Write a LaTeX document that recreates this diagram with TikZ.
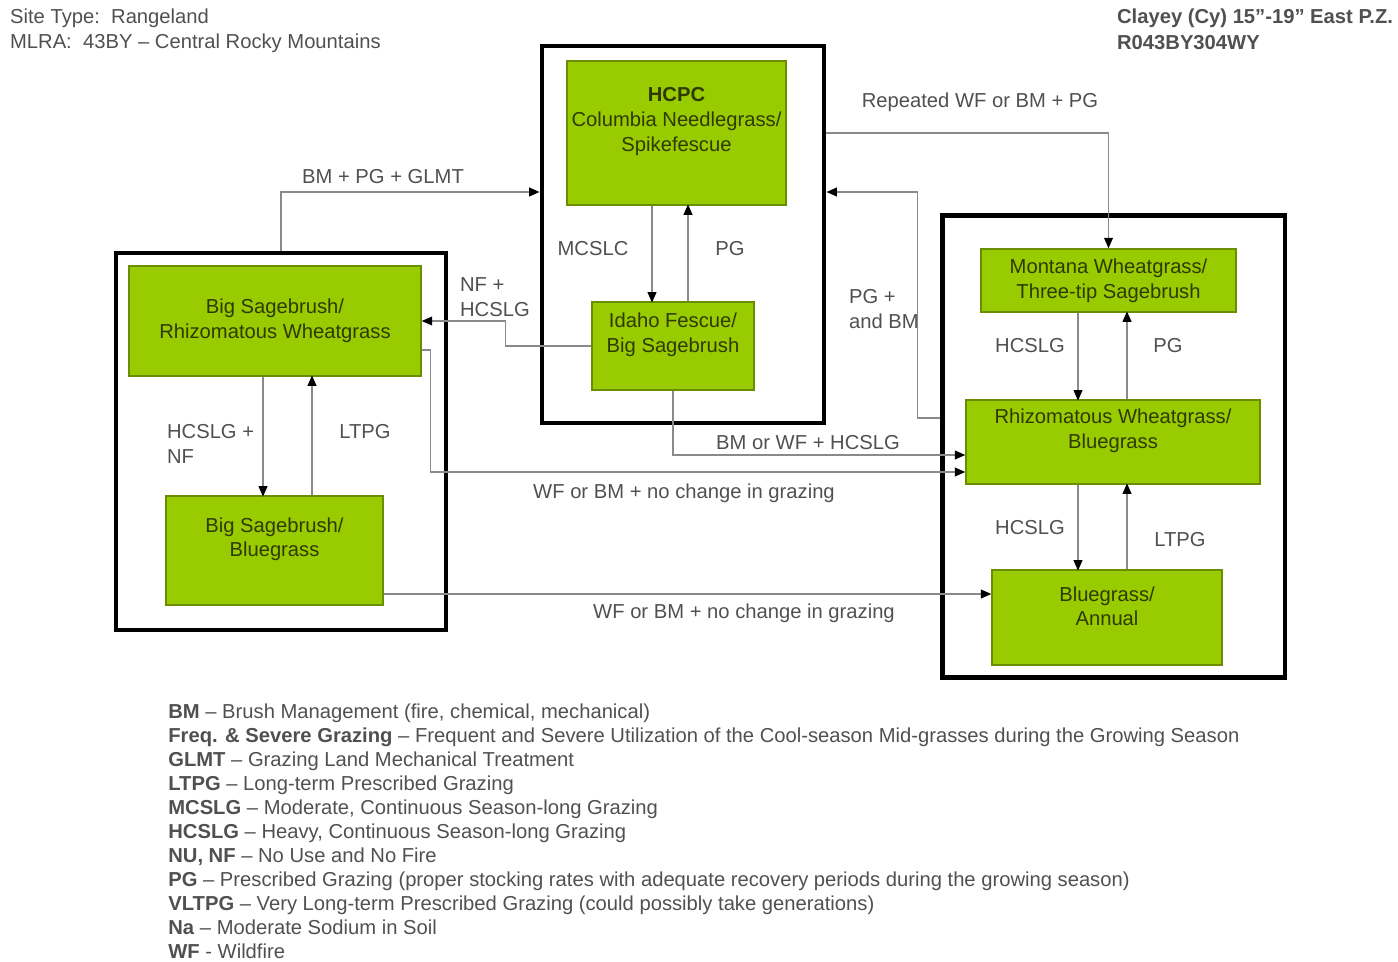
\documentclass[tikz,border=0pt]{standalone}
\usepackage{fontspec}
\setmainfont{Liberation Sans}
\usepackage{xcolor}
\usepackage{tikz}
\usetikzlibrary{arrows.meta,positioning}
\definecolor{stategreen}{HTML}{99CC00}
\definecolor{stateedge}{HTML}{6B8E00}
\definecolor{statetext}{HTML}{2E3A00}
\definecolor{linegray}{HTML}{8A8A8A}
\definecolor{labelgray}{HTML}{505050}

\begin{document}
\begin{tikzpicture}[
    x=0.02cm, y=-0.02cm,
    frame/.style={rectangle, draw=black, line width=2.8pt, inner sep=0pt},
    state/.style={rectangle, draw=stateedge, fill=stategreen, line width=0.8pt, inner sep=0pt},
    statelabel/.style={align=center, text=statetext, font=\fontsize{11.5}{14}\selectfont},
    raised/.style={yshift=6.5pt},
    lbl/.style={text=labelgray, font=\fontsize{11.5}{14}\selectfont, inner sep=1pt},
    arrow/.style={-{Triangle[length=6pt,width=5pt,black]}, draw=linegray, line width=0.9pt}
    ]
    \useasboundingbox (0,0) rectangle (1398,962);

    % Titel
    \node[lbl, anchor=west] (site) at (8,18) {Site Type:\ \ Rangeland};
    \node[lbl, anchor=west] (mlra) at (8,43) {MLRA:\ \ 43BY – Central Rocky Mountains};
    \node[lbl, anchor=west, font=\fontsize{11.5}{14}\selectfont\bfseries] (clayey) at (1115,18) {Clayey (Cy) 15"-19" East P.Z.};
    \node[lbl, anchor=west, font=\fontsize{11.5}{14}\selectfont\bfseries] (code) at (1115,43) {R043BY304WY};

    % Rahmen
    \node[frame, minimum width=5.64cm, minimum height=7.54cm] (cframe) at (683,234.5) {};
    \node[frame, minimum width=6.6cm, minimum height=7.54cm] (lframe) at (281,441.5) {};
    \node[frame, minimum width=6.86cm, minimum height=9.26cm] (rframe) at (1113.5,446.5) {};

    % Zustaende
    \node[state, minimum width=4.38cm, minimum height=2.88cm,
        label={[statelabel, raised]center:{\textbf{HCPC}\\Columbia Needlegrass/\\Spikefescue}}] (hcpc) at (676.5,133) {};
    \node[state, minimum width=3.24cm, minimum height=1.76cm,
        label={[statelabel, raised]center:{Idaho Fescue/\\Big Sagebrush}}] (idaho) at (673,346) {};
    \node[state, minimum width=5.84cm, minimum height=2.2cm,
        label={[statelabel]center:{Big Sagebrush/\\Rhizomatous Wheatgrass}}] (bsrw) at (275,321) {};
    \node[state, minimum width=4.34cm, minimum height=2.18cm,
        label={[statelabel, raised]center:{Big Sagebrush/\\Bluegrass}}] (bsbg) at (274.5,550.5) {};
    \node[state, minimum width=5.1cm, minimum height=1.26cm,
        label={[statelabel]center:{Montana Wheatgrass/\\Three-tip Sagebrush}}] (mwts) at (1108.5,280.5) {};
    \node[state, minimum width=5.88cm, minimum height=1.68cm,
        label={[statelabel, raised]center:{Rhizomatous Wheatgrass/\\Bluegrass}}] (rwbg) at (1113,442) {};
    \node[state, minimum width=4.6cm, minimum height=1.9cm,
        label={[statelabel, raised]center:{Bluegrass/\\Annual}}] (bgan) at (1107,617.5) {};

    % Hilfspunkte
    \coordinate (pgbmin) at ([yshift=0.48cm]rwbg.west);
    \coordinate (wfain) at ([yshift=-0.6cm]rwbg.west);
    \coordinate (bmwfin) at ([yshift=-0.26cm]rwbg.west);

    % Uebergaenge im mittleren Rahmen
    \draw[arrow] ([xshift=-0.49cm]hcpc.south) -- ++(0,-1.94cm);
    \draw[arrow] ([xshift=0.3cm]idaho.north) -- ++(0,1.94cm);

    % Uebergaenge im linken Rahmen
    \draw[arrow] ([xshift=-0.24cm]bsrw.south) -- ++(0,-2.4cm);
    \draw[arrow] ([xshift=0.75cm]bsbg.north) -- ++(0,2.4cm);

    % Uebergaenge im rechten Rahmen
    \draw[arrow] ([xshift=-0.61cm]mwts.south) -- ++(0,-1.76cm);
    \draw[arrow] ([xshift=0.28cm]rwbg.north) -- ++(0,1.76cm);
    \draw[arrow] ([xshift=-0.7cm]rwbg.south) -- ++(0,-1.72cm);
    \draw[arrow] ([xshift=0.4cm]bgan.north) -- ++(0,1.72cm);

    % Uebergaenge zwischen den Rahmen
    \draw[arrow] (lframe.north) |- ([yshift=0.85cm]cframe.west);
    \draw[arrow] (pgbmin -| rframe.west) -- ++(-0.44cm,0) |- ([yshift=0.85cm]cframe.east);
    \draw[arrow] (hcpc.east -| cframe.east) -| (mwts.north);
    \draw[arrow] (idaho.west) -- ++(-1.72cm,0) |- (bsrw.east);
    \draw[arrow] ([yshift=-0.58cm]bsrw.east) -- ++(0.18cm,0) |- (wfain);
    \draw[arrow] (idaho.south) |- (bmwfin);
    \draw[arrow] ([yshift=-0.87cm]bsbg.east) -- ([yshift=0.47cm]bgan.west);

    % Beschriftungen
    \node[lbl] (glmt) at (383,177) {BM + PG + GLMT};
    \node[lbl] (mcslc) at (593,249) {MCSLC};
    \node[lbl] (pgc) at (730,249) {PG};
    \node[lbl, align=left, anchor=west] (nfh) at (458,297) {NF +\\HCSLG};
    \node[lbl, align=left, anchor=west] (hnf) at (165,444) {HCSLG +\\NF};
    \node[lbl] (ltpgl) at (365,432) {LTPG};
    \node[lbl] (repwf) at (980,102) {Repeated WF or BM + PG};
    \node[lbl, align=left, anchor=west] (pgbm) at (847,309) {PG +\\and BM};
    \node[lbl] (hcslga) at (1030,346) {HCSLG};
    \node[lbl] (pgr) at (1168,346) {PG};
    \node[lbl] (hcslgb) at (1030,528) {HCSLG};
    \node[lbl] (ltpgr) at (1180,540) {LTPG};
    \node[lbl] (bmwf) at (808,443) {BM or WF + HCSLG};
    \node[lbl] (wfbma) at (684,493) {WF or BM + no change in grazing};
    \node[lbl] (wfbmb) at (744,613) {WF or BM + no change in grazing};

    % Legende
    \node[lbl, align=left, anchor=north west, inner sep=0pt, font=\fontsize{11.5}{13.7}\selectfont] (legend) at (168,703) {%
        \textbf{BM} – Brush Management (fire, chemical, mechanical)\\
        \textbf{Freq. \& Severe Grazing} – Frequent and Severe Utilization of the Cool-season Mid-grasses during the Growing Season\\
        \textbf{GLMT} – Grazing Land Mechanical Treatment\\
        \textbf{LTPG} – Long-term Prescribed Grazing\\
        \textbf{MCSLG} – Moderate, Continuous Season-long Grazing\\
        \textbf{HCSLG} – Heavy, Continuous Season-long Grazing\\
        \textbf{NU, NF} – No Use and No Fire\\
        \textbf{PG} – Prescribed Grazing (proper stocking rates with adequate recovery periods during the growing season)\\
        \textbf{VLTPG} – Very Long-term Prescribed Grazing (could possibly take generations)\\
        \textbf{Na} – Moderate Sodium in Soil\\
        \textbf{WF} - Wildfire};

\end{tikzpicture}
\end{document}
